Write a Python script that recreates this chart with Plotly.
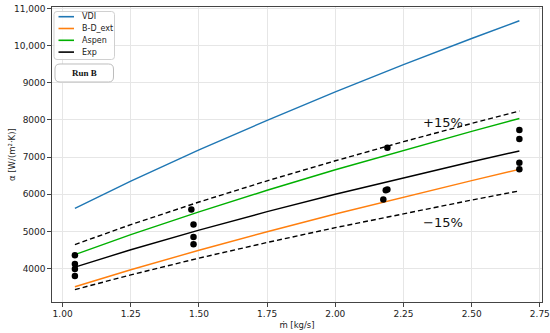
import plotly.graph_objects as go

# Line curves
x_line = [1.045, 1.25, 1.5, 1.75, 2.0, 2.25, 2.5, 2.675]
vdi = [5620, 6351, 7193, 7990, 8753, 9487, 10192, 10670]
bd_ext = [3510, 3967, 4493, 4992, 5469, 5927, 6368, 6670]
aspen = [4375, 4913, 5528, 6108, 6659, 7186, 7692, 8040]
exp_fit = [4040, 4506, 5036, 5532, 6001, 6448, 6875, 7165]
plus15 = [4646, 5182, 5791, 6362, 6901, 7415, 7906, 8240]
minus15 = [3434, 3830, 4281, 4702, 5101, 5481, 5844, 6090]

# Experimental points
x_exp = [1.045, 1.045, 1.045, 1.045,
         1.472, 1.48, 1.48, 1.48,
         2.191, 2.191, 2.185, 2.176,
         2.675, 2.675, 2.675, 2.675]
y_exp = [4355, 4120, 3990, 3800,
         5590, 5185, 4850, 4655,
         7250, 6130, 6110, 5860,
         7730, 7485, 6845, 6675]

y_ticks = [4000, 5000, 6000, 7000, 8000, 9000, 10000, 11000]
y_tick_text = ["4000", "5000", "6000", "7000", "8000", "9000", "10,000", "11,000"]
x_ticks = [1.00, 1.25, 1.50, 1.75, 2.00, 2.25, 2.50, 2.75]
x_tick_text = ["1.00", "1.25", "1.50", "1.75", "2.00", "2.25", "2.50", "2.75"]

legend_names = ["VDI", "B-D_ext", "Aspen", "Exp"]
legend_colors = ["#1f77b4", "#ff7f0e", "#00b000", "black"]

FONT = "DejaVu Sans, sans-serif"
W, H = 550, 333
L, R, T, B = 52, 8, 7, 31
PW, PH = W - L - R, H - T - B


def px(xp):
    return (xp - L) / PW


def py(yp):
    return (H - B - yp) / PH


fig = go.Figure()
fig.add_trace(go.Scatter(x=x_line, y=plus15, mode="lines", showlegend=False,
                         line=dict(color="black", width=1.4, dash="5px,3px")))
fig.add_trace(go.Scatter(x=x_line, y=minus15, mode="lines", showlegend=False,
                         line=dict(color="black", width=1.4, dash="5px,3px")))
fig.add_trace(go.Scatter(x=x_line, y=vdi, mode="lines", name="VDI", showlegend=False,
                         line=dict(color=legend_colors[0], width=1.4)))
fig.add_trace(go.Scatter(x=x_line, y=bd_ext, mode="lines", name="B-D_ext", showlegend=False,
                         line=dict(color=legend_colors[1], width=1.4)))
fig.add_trace(go.Scatter(x=x_line, y=aspen, mode="lines", name="Aspen", showlegend=False,
                         line=dict(color=legend_colors[2], width=1.4)))
fig.add_trace(go.Scatter(x=x_line, y=exp_fit, mode="lines", name="Exp", showlegend=False,
                         line=dict(color=legend_colors[3], width=1.4)))
fig.add_trace(go.Scatter(x=x_exp, y=y_exp, mode="markers", showlegend=False,
                         marker=dict(color="black", size=6.5)))

axis_common = dict(showgrid=True, gridcolor="#e6e6e6", gridwidth=0.8,
                   showline=True, linecolor="#444", linewidth=1.3, mirror=True,
                   ticks="outside", ticklen=3.5, tickcolor="#444",
                   tickfont=dict(family=FONT, size=9, color="#222"),
                   zeroline=False, automargin=False)


def rounded_rect(x0, y0, x1, y1, r):
    # pixel coords -> paper path with rounded corners
    X = lambda v: f"{px(v):.5f}"
    Y = lambda v: f"{py(v):.5f}"
    return (f"M {X(x0 + r)},{Y(y0)} L {X(x1 - r)},{Y(y0)} Q {X(x1)},{Y(y0)} {X(x1)},{Y(y0 + r)} "
            f"L {X(x1)},{Y(y1 - r)} Q {X(x1)},{Y(y1)} {X(x1 - r)},{Y(y1)} "
            f"L {X(x0 + r)},{Y(y1)} Q {X(x0)},{Y(y1)} {X(x0)},{Y(y1 - r)} "
            f"L {X(x0)},{Y(y0 + r)} Q {X(x0)},{Y(y0)} {X(x0 + r)},{Y(y0)} Z")


shapes = [
    dict(type="path", xref="paper", yref="paper", path=rounded_rect(54, 11.5, 114.5, 59.5, 3),
         line=dict(color="#d0d0d0", width=1), fillcolor="rgba(255,255,255,0.85)"),
    dict(type="path", xref="paper", yref="paper", path=rounded_rect(55, 64, 113.5, 82, 5),
         line=dict(color="#bdbdbd", width=1), fillcolor="white"),
]
annotations = [
    dict(x=2.395, y=7920, xref="x", yref="y", text="+15%", showarrow=False,
         font=dict(family=FONT, size=13, color="#111")),
    dict(x=2.395, y=5230, xref="x", yref="y", text="−15%", showarrow=False,
         font=dict(family=FONT, size=13, color="#111")),
    dict(x=px(84.5), y=py(73), xref="paper", yref="paper", xanchor="center", yanchor="middle",
         text="<b>Run B</b>", showarrow=False,
         font=dict(family="Liberation Serif, serif", size=9, color="#111")),
    dict(x=px(12), y=py(155), xref="paper", yref="paper", xanchor="center", yanchor="middle",
         text="α [W/(m²·K)]", textangle=-90, showarrow=False,
         font=dict(family=FONT, size=8.5, color="#222")),
]
row_y = [16.7, 28.5, 40.3, 52.1]
for name, col, ry in zip(legend_names, legend_colors, row_y):
    shapes.append(dict(type="line", xref="paper", yref="paper",
                       x0=px(58.5), x1=px(74), y0=py(ry), y1=py(ry),
                       line=dict(color=col, width=1.6)))
    annotations.append(dict(x=px(79.5), y=py(ry), xref="paper", yref="paper",
                            xanchor="left", yanchor="middle", text=name, showarrow=False,
                            font=dict(family=FONT, size=8, color="#222")))

fig.update_layout(
    width=W, height=H,
    margin=dict(l=L, r=R, t=T, b=B),
    paper_bgcolor="white", plot_bgcolor="white",
    showlegend=False,
    xaxis=dict(range=[0.961, 2.758], tickvals=x_ticks, ticktext=x_tick_text,
               title=dict(text="ṁ [kg/s]", font=dict(family=FONT, size=8.5, color="#222"),
                          standoff=3),
               **axis_common),
    yaxis=dict(range=[3100, 11040], tickvals=y_ticks, ticktext=y_tick_text,
               **axis_common),
    annotations=annotations,
    shapes=shapes,
)

fig.write_html("out.html", config={"displayModeBar": False},
               post_script="document.body.style.margin='0';document.body.style.padding='0';")
